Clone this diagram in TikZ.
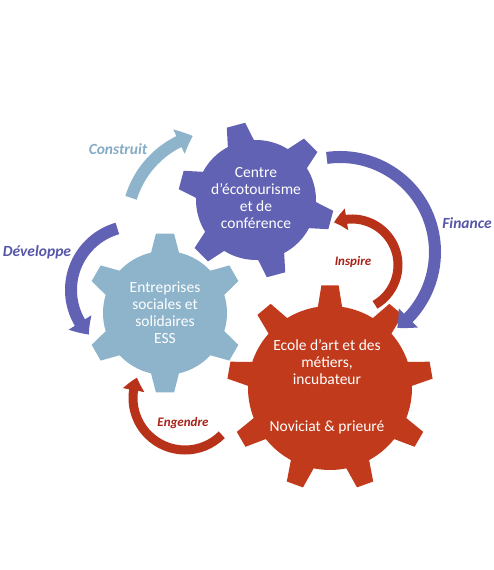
\documentclass[tikz,border=0pt]{standalone}
\usepackage{fontspec}
\setmainfont{Carlito}
\usetikzlibrary{arrows.meta,bending}
\definecolor{gearpurple}{HTML}{6262B4}
\definecolor{gearblue}{HTML}{8DB4CB}
\definecolor{gearred}{HTML}{C13A1C}
\definecolor{swooshred}{HTML}{B8321A}
\definecolor{labelpurple}{HTML}{5656A8}
\definecolor{labelblue}{HTML}{86ABC4}
\definecolor{labelred}{HTML}{A82218}

\begin{document}
\begin{tikzpicture}[
    x=1pt, y=1pt,
    geartext/.style={text=white, align=center, font=\fontsize{15.5}{17}\selectfont},
    verb/.style={font=\fontsize{15.5}{17}\selectfont\bfseries\itshape},
    smallverb/.style={font=\fontsize{13}{14}\selectfont\bfseries\itshape, text=labelred},
    swoosh/.style={line width=12pt, -{Triangle[width=26pt,length=15pt,bend]}},
    redswoosh/.style={line width=9pt, draw=swooshred, -{Triangle[width=21pt,length=13pt,bend]}},
]
\useasboundingbox (0,0) rectangle (493,570);

% --- gear centres ---
\coordinate (purplec) at (256,370);
\coordinate (bluec)   at (165,257);
\coordinate (redc)    at (330,182);

% --- ESS gear: 6 teeth, one pointing straight up ---
\begin{scope}[shift={(bluec)}]
  \fill[gearblue] (77:62)
    \foreach \k [evaluate=\k as \a using 90+60*\k] in {0,...,5}{
      -- ({\a-13}:62) -- ({\a-6.5}:80) -- ({\a+6.5}:80) -- ({\a+13}:62)
      arc[start angle=\a+13, end angle=\a+47, radius=62pt]
    } -- cycle;
\end{scope}

% --- ecotourism gear: 6 teeth, turned a little ---
\begin{scope}[shift={(purplec)}]
  \fill[gearpurple] (92:60)
    \foreach \k [evaluate=\k as \a using 105+60*\k] in {0,...,5}{
      -- ({\a-13}:60) -- ({\a-7}:78) -- ({\a+7}:78) -- ({\a+13}:60)
      arc[start angle=\a+13, end angle=\a+47, radius=60pt]
    } -- cycle;
\end{scope}

% --- school gear: 9 teeth ---
\begin{scope}[shift={(redc)}]
  \fill[gearred] (81.5:82)
    \foreach \k [evaluate=\k as \a using 90+40*\k] in {0,...,8}{
      -- ({\a-8.5}:82) -- ({\a-4.8}:103) -- ({\a+4.8}:103) -- ({\a+8.5}:82)
      arc[start angle=\a+8.5, end angle=\a+31.5, radius=82pt]
    } -- cycle;
\end{scope}

% --- texts inside the gears ---
\node[geartext] (purpletxt) at (256,372) {Centre\\d’écotourisme\\et de\\conférence};
\node[geartext] (bluetxt) at (165,257) {Entreprises\\sociales et\\solidaires\\ESS};
\node[geartext] (redtxt) at (327,183)
     {Ecole d’art et des\\métiers,\\incubateur\\[30pt]Noviciat \& prieuré};

% --- big arcs round the gears ---
\coordinate (constc) at (220,345);
\coordinate (devc)   at (135,280);
\coordinate (finc)   at (340,318);
\draw[swoosh, gearblue]   (constc) ++(163:93) arc[start angle=163, end angle=107, radius=93pt];
\draw[swoosh, gearpurple] (devc) ++(106:64) arc[start angle=106, end angle=224, radius=64pt];
\draw[swoosh, gearpurple] (finc) ++(98:95) arc[start angle=98, end angle=-53, radius=95pt];

% --- small red swooshes ---
\coordinate (inspc) at (352,305);
\coordinate (engc)  at (185,172);
\draw[redswoosh] (inspc) ++(-60:46) arc[start angle=-60, end angle=113, radius=46pt];
\draw[redswoosh] (engc) ++(-45:52) arc[start angle=-45, end angle=-203, radius=52pt];

% --- verbs ---
\node[verb, text=labelblue]   (construit) at (118,421) {Construit};
\node[verb, text=labelpurple] (developpe) at (37,318)  {Développe};
\node[verb, text=labelpurple] (finance)   at (467,347) {Finance};
\node[smallverb] (inspire)  at (353,308) {Inspire};
\node[smallverb] (engendre) at (183,147) {Engendre};

\end{tikzpicture}
\end{document}
